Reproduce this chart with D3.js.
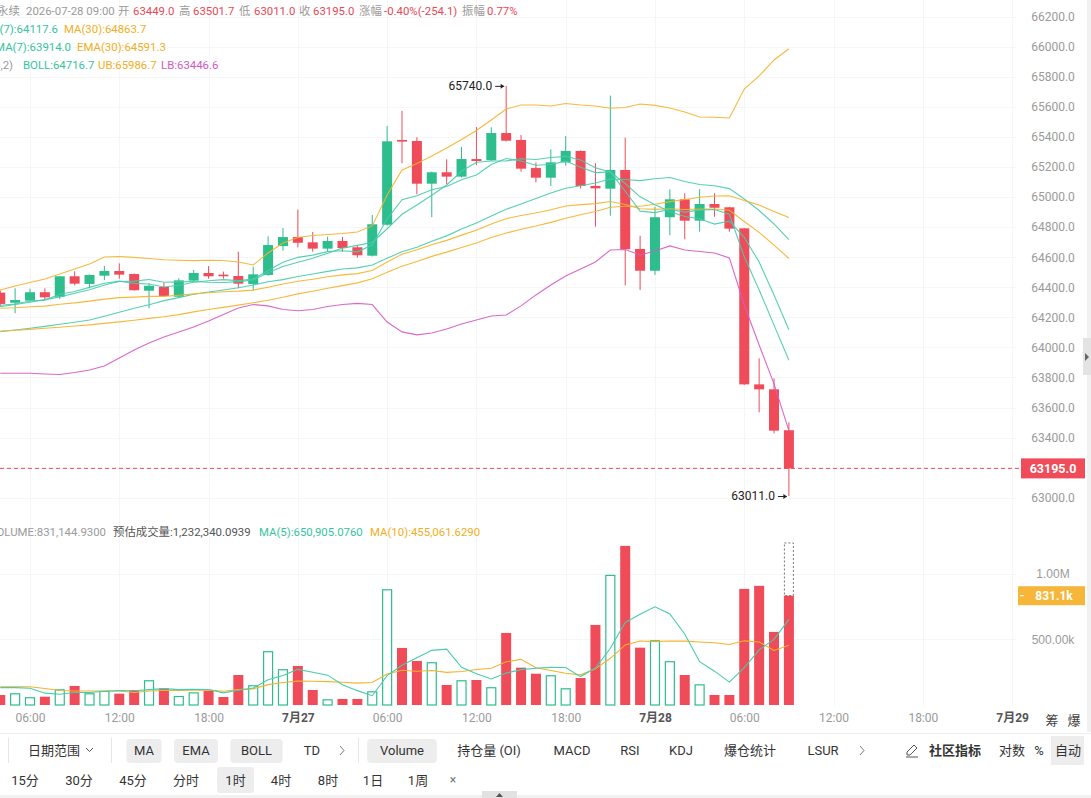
<!DOCTYPE html>
<html><head><meta charset="utf-8">
<script src="https://cdn.jsdelivr.net/npm/d3@7"></script>
<style>
html,body{margin:0;padding:0;background:#fff;overflow:hidden}
svg{display:block;font-family:Roboto,"Noto Sans CJK SC",sans-serif}
</style></head><body>
<svg id="c" width="1091" height="798"></svg>
<script>
// ---------------- DATA ----------------
const startTime = new Date(2026, 6, 26, 4, 0); // first (partly visible) 1h candle
const open  = [64364,64297,64311,64367,64337,64473,64422,64477,64508,64488,64377,64402,64337,64444,64495,64484,64475,64422,64482,64674,64734,64699,64657,64708,64666,64610,64816,65380,65373,65089,65165,65136,65253,65245,65426,65380,65193,65129,65231,65307,65074,65056,65180,64655,64510,64866,64985,64843,64954,64932,64792,63754,63721,63449];
const high  = [64380,64393,64391,64393,64475,64506,64485,64541,64559,64492,64426,64430,64460,64515,64541,64504,64637,64537,64739,64794,64916,64768,64737,64735,64679,64881,65473,65573,65398,65170,65251,65333,65466,65464,65740,65413,65231,65318,65406,65310,65225,65675,65395,64743,64936,65052,65025,65052,65025,64935,64795,63927,63794,63501.7];
const low   = [64270,64227,64302,64320,64322,64413,64393,64448,64457,64378,64260,64335,64329,64440,64457,64457,64393,64377,64476,64643,64666,64637,64637,64637,64597,64605,64810,65225,65019,64866,65085,65130,65213,65240,65370,65169,65098,65074,65209,65058,64803,64876,64413,64382,64482,64746,64719,64770,64870,64770,63750,63568,63428,63011];
const close = [64289,64315,64367,64333,64473,64424,64482,64508,64484,64380,64410,64342,64446,64495,64473,64473,64424,64486,64681,64734,64696,64657,64708,64661,64613,64819,65371,65369,65089,65165,65136,65253,65240,65426,65375,65189,65129,65231,65307,65074,65058,65180,64653,64510,64866,64985,64843,64954,64929,64790,63754,63721,63446,63195];
const volume = [76000,89000,59000,63000,119000,145000,89000,107000,86000,114000,188000,127000,68000,96000,109000,61000,228000,150000,409000,272000,297000,114000,43000,46000,46000,104000,880000,434000,335000,325000,152000,188000,190000,135000,548000,284000,238000,226000,127000,205000,609000,989000,1210000,436000,492000,333000,228000,157000,76000,76000,883000,906000,556000,831144.93];
const estVolume = 1232340.0939;

const ma7   = [64270,64285,64300,64318,64336,64360,64383.3,64414.6,64438.7,64440.6,64451.6,64432.9,64436,64437.9,64432.9,64431.3,64437.6,64448.4,64496.9,64538,64566.7,64593,64626.6,64660.4,64678.6,64698.3,64789.3,64885.4,64947.1,65012.4,65080.3,65171.7,65231.9,65239.7,65240.6,65254.9,65249.7,65263.3,65271,65247.3,65194.7,65166.9,65090.3,65001.9,64949.7,64903.7,64870.7,64855.9,64820,64839.6,64731.6,64568,64348.1,64117.6];
const ma30  = [64109,64114,64120,64127,64134,64142,64150,64160,64170,64181,64193,64204,64218,64236,64252,64266,64281,64297,64314,64333,64356,64374,64393,64411,64429,64456,64500,64540,64572,64605.6,64633.8,64665.1,64694.2,64730.6,64760.7,64786.2,64807.7,64831.8,64859.3,64882.4,64904,64931.9,64938.8,64939.3,64952.4,64969.5,64983.5,64999.1,65007.3,65009.2,64977.8,64946.6,64904.5,64863.7];
const ema7  = [64280,64288.8,64308.3,64314.5,64354.1,64371.6,64399.2,64426.4,64440.8,64425.6,64421.7,64401.8,64412.9,64433.4,64443.3,64450.7,64444,64454.5,64511.1,64566.8,64599.1,64613.6,64637.2,64643.2,64635.6,64681.5,64853.9,64982.7,65009.3,65048.2,65070.2,65115.9,65146.9,65216.7,65256.3,65239.5,65211.9,65216.7,65239.3,65198,65163,65167.3,65038.7,64906.5,64896.4,64918.6,64899.7,64913.3,64917.2,64885.4,64602.6,64382.2,64148.2,63914];
const ema30 = [64260,64263.5,64270.2,64274.3,64287.1,64295.9,64307.9,64320.8,64331.3,64334.4,64339.3,64339.5,64346.4,64356,64363.5,64370.6,64374,64381.2,64400.5,64422,64439.7,64453.7,64470.1,64482.4,64490.8,64512,64567.4,64619.1,64649.4,64682.7,64712,64746.9,64778.7,64820.5,64856.3,64877.8,64894,64915.7,64940.9,64949.5,64956.5,64970.9,64950.4,64922,64918.4,64922.7,64917.6,64919.9,64920.5,64912.1,64837.4,64765.4,64680.3,64591.3];
const boll  = [64104,64116,64127,64140,64154,64167,64182,64207,64234,64260,64284,64311,64331,64353,64369,64382,64397,64415,64437,64451,64471.3,64488.4,64505.5,64521.9,64528.9,64548.6,64593.1,64636.1,64666.4,64705.6,64741.9,64787.5,64827.2,64873.7,64918.8,64954.6,64989.9,65027.1,65058.4,65075.4,65093.5,65119.7,65116.9,65109.4,65122,65130.3,65103.9,65083.2,65075.2,65056.4,64987.3,64910.7,64821,64716.7];
const ub    = [64382,64409,64432,64455,64488,64522,64555,64601,64605,64599,64591,64583,64580,64577,64580,64578,64568,64548,64628,64695,64731,64744,64751,64758,64768,64808,65014,65180,65224,65273,65327,65383,65443,65513,65586,65613,65613,65606,65623,65613,65606,65591,65596,65619,65610,65593,65566,65533,65531,65526,65719,65806,65912,65986.7];
const lb    = [63828,63828,63828,63823,63820,63833,63850,63876,63929,63983,64029,64069,64103,64136,64176,64219,64262,64285,64276,64252,64244,64252,64272,64285,64293,64285,64169,64103,64083,64096,64122,64156,64182,64209,64215,64276,64349,64415,64475,64522,64568,64648,64651,64615,64641,64675,64648,64638,64628,64595,64282,64016,63757,63446.6];
const volMa5  = [132000,132000,127000,90000,81200,95000,95000,104600,109200,108200,116800,124400,116600,118600,117600,92200,112400,128800,191400,224000,271200,248400,227000,154400,109200,70600,223800,302000,359800,415600,425200,286800,238000,198000,242600,269000,279000,286200,284600,216000,281000,431200,628000,689800,747200,692000,539800,329200,257200,174000,284000,419600,499400,650905];
const volMa10 = [139000,139000,139000,125000,110000,107000,107000,107000,107000,94700,105900,109700,110600,113900,112900,104500,118400,122700,155000,170800,181700,180400,177900,172900,166600,170900,236100,264500,257100,262400,247900,255300,270000,278900,329100,347100,282900,262100,241300,229300,275000,355100,457100,487200,481600,486500,485500,478600,473500,460600,488000,479700,414300,455062];

const priceTicks = d3.range(63000, 66201, 200);
const volTicks = [500000, 1000000];
const lastPrice = 63195.0, lastVolLabel = "831.1k";

const headerLine = [
  ["永续",-3,"g"],["2026-07-28 09:00",26,"g"],["开",118,"g"],["63449.0",133,"r"],["高",179,"g"],["63501.7",193,"r"],
  ["低",239,"g"],["63011.0",254,"r"],["收",299,"g"],["63195.0",313,"r"],["涨幅",359,"g"],["-0.40%(-254.1)",384,"r"],
  ["振幅",462,"g"],["0.77%",487,"r"]];
const toolbar1 = [["MA",144,true],["EMA",196,true],["BOLL",256.5,true],["TD",312],["Volume",402,true],["持仓量 (OI)",489],["MACD",572],["RSI",630],["KDJ",681],["爆仓统计",750],["LSUR",823],["对数",1012],["%",1039],["自动",1068,true]];
const toolbar2 = [["15分",25],["30分",79],["45分",133],["分时",186],["1时",235.5,true],["4时",281],["8时",328],["1日",373],["1周",418]];

// ---------------- CHART ----------------
const svg = d3.select("#c");
const C = {green:"#2ebd8d", red:"#ef4b59", teal:"#48ccad", orange:"#f4b32c", magenta:"#d55cc6",
           gray:"#9a9a9a", text:"#333", tealText:"#36c3a0", orangeText:"#f2ae22", redText:"#e94855"};
const times = d3.range(close.length).map(i => d3.timeHour.offset(startTime, i));
const x = d3.scaleTime().domain([times[0], times[times.length-1]]).range([0.24, 788.9]);
const y = d3.scaleLinear().domain([63000, 66200]).range([497.7, 16.7]);
const yv = d3.scaleLinear().domain([0, 1e6]).range([705, 573.5]);
const bw = 10;
const HF = 11.4; // header font size

const defs = svg.append("defs");
defs.append("clipPath").attr("id","clipP").append("rect").attr("x",0).attr("y",0).attr("width",1016).attr("height",510);
defs.append("clipPath").attr("id","clipV").append("rect").attr("x",0).attr("y",538).attr("width",1016).attr("height",170);

// right edge strip
svg.append("rect").attr("x",1087).attr("y",0).attr("width",4).attr("height",732).attr("fill","#f1f1f1");
svg.append("rect").attr("x",1083).attr("y",338).attr("width",8).attr("height",37).attr("fill","#e3e3e3");
svg.append("path").attr("d","M1085,353 L1089,357 L1085,361 Z").attr("fill","#666");

// grid
const timeTicks = d3.timeHour.every(6).range(new Date(2026,6,26,6), new Date(2026,6,29,1));
const grid = svg.append("g").attr("stroke","#f6f6f6").attr("stroke-width",1);
priceTicks.forEach(v => grid.append("line").attr("x1",0).attr("x2",1016).attr("y1",Math.round(y(v))+0.5).attr("y2",Math.round(y(v))+0.5));
volTicks.forEach(v => grid.append("line").attr("x1",0).attr("x2",1016).attr("y1",Math.round(yv(v))+0.5).attr("y2",Math.round(yv(v))+0.5));
timeTicks.forEach(t => grid.append("line").attr("x1",Math.round(x(t))+0.5).attr("x2",Math.round(x(t))+0.5).attr("y1",0).attr("y2",706));

// candles
const gP = svg.append("g").attr("clip-path","url(#clipP)");
const idx = d3.range(close.length);
gP.selectAll("line.w").data(idx).join("line")
  .attr("x1", i => x(times[i])).attr("x2", i => x(times[i]))
  .attr("y1", i => y(high[i])).attr("y2", i => y(low[i]))
  .attr("stroke", i => close[i] >= open[i] ? C.green : C.red).attr("stroke-width",1);
gP.selectAll("rect.b").data(idx).join("rect")
  .attr("x", i => x(times[i]) - bw/2).attr("width", bw)
  .attr("y", i => y(Math.max(open[i], close[i])))
  .attr("height", i => Math.max(1.2, Math.abs(y(open[i]) - y(close[i]))))
  .attr("fill", i => close[i] >= open[i] ? C.green : C.red);

// indicator lines
const line = d3.line().x((d,i) => x(times[i])).y(d => y(d));
[[ub,C.orange],[lb,C.magenta],[boll,C.teal],[ma30,C.orange],[ema30,C.orange],[ma7,C.teal],[ema7,C.teal]].forEach(([arr,col]) => {
  gP.append("path").attr("d", line(arr)).attr("fill","none").attr("stroke",col).attr("stroke-width",1.1).attr("opacity",0.92);
});

// last price dashed line
const yl = y(lastPrice);
svg.append("line").attr("x1",0).attr("x2",1021).attr("y1",yl).attr("y2",yl)
  .attr("stroke",C.red).attr("stroke-width",1).attr("stroke-dasharray","4,3");

// extreme annotations
const iMax = d3.maxIndex(high), iMin = d3.minIndex(low);
function annot(i, val) {
  const xc = x(times[i]), yc = y(val);
  svg.append("text").attr("x", xc - 14).attr("y", yc + 4).attr("text-anchor","end")
    .attr("font-size",12).attr("fill","#222").text(d3.format(".1f")(val));
  svg.append("line").attr("x1", xc - 11).attr("x2", xc - 2).attr("y1", yc + 0.5).attr("y2", yc + 0.5).attr("stroke","#222").attr("stroke-width",1);
  svg.append("path").attr("d", `M${xc-2},${yc+0.5} l-3.5,-2.5 l0,5 Z`).attr("fill","#222");
}
annot(iMax, high[iMax]);
annot(iMin, low[iMin]);

// price axis
const axP = svg.append("g").attr("transform","translate(1053,0)")
  .call(d3.axisRight(y).tickValues(priceTicks).tickFormat(d3.format(".1f")).tickSize(0).tickPadding(0));
axP.select(".domain").remove();
axP.selectAll("text").attr("text-anchor","middle").attr("x",0).attr("font-size",12).attr("fill",C.gray).attr("font-family",'Roboto,sans-serif');

// last price tag
svg.append("rect").attr("x",1021).attr("y",yl-10).attr("width",64).attr("height",20).attr("fill",C.red);
svg.append("text").attr("x",1053).attr("y",yl+4.5).attr("text-anchor","middle").attr("font-size",12.5).attr("font-weight","bold").attr("fill","#fff").text(d3.format(".1f")(lastPrice));

// volume bars
const gV = svg.append("g").attr("clip-path","url(#clipV)");
gV.selectAll("rect.v").data(idx).join("rect")
  .attr("x", i => close[i] >= open[i] ? x(times[i]) - bw/2 + 0.5 : x(times[i]) - bw/2)
  .attr("width", i => close[i] >= open[i] ? bw - 1 : bw)
  .attr("y", i => yv(volume[i]) + (close[i] >= open[i] ? 0.5 : 0))
  .attr("height", i => yv(0) - yv(volume[i]) - (close[i] >= open[i] ? 0.5 : 0))
  .attr("fill", i => close[i] >= open[i] ? "#fff" : C.red)
  .attr("stroke", i => close[i] >= open[i] ? C.green : "none").attr("stroke-width",1.2);
const iL = volume.length - 1;
svg.append("rect").attr("x", x(times[iL]) - bw/2 + 0.5).attr("width", bw - 1)
  .attr("y", yv(estVolume)).attr("height", yv(volume[iL]) - yv(estVolume))
  .attr("fill","none").attr("stroke","#555").attr("stroke-width",0.8).attr("stroke-dasharray","2,2");
const vline = d3.line().x((d,i) => x(times[i])).y(d => yv(d));
gV.append("path").attr("d", vline(volMa10)).attr("fill","none").attr("stroke",C.orange).attr("stroke-width",1.1);
gV.append("path").attr("d", vline(volMa5)).attr("fill","none").attr("stroke",C.teal).attr("stroke-width",1.1);

// volume axis
const fmtVol = d => d >= 1e6 ? (d/1e6).toFixed(2) + "M" : (d/1e3).toFixed(2) + "k";
const axV = svg.append("g").attr("transform","translate(1053,0)")
  .call(d3.axisRight(yv).tickValues(volTicks).tickFormat(fmtVol).tickSize(0).tickPadding(0));
axV.select(".domain").remove();
axV.selectAll("text").attr("text-anchor","middle").attr("x",0).attr("font-size",12).attr("fill",C.gray);
const yvl = yv(volume[iL]);
svg.append("rect").attr("x",1018).attr("y",yvl-9.5).attr("width",67).attr("height",19).attr("fill","#f5b63a");
svg.append("line").attr("x1",1020).attr("x2",1024).attr("y1",yvl).attr("y2",yvl).attr("stroke","#fff");
svg.append("text").attr("x",1054).attr("y",yvl+4.5).attr("text-anchor","middle").attr("font-size",12).attr("font-weight","bold").attr("fill","#fff").text(lastVolLabel);

// time axis
const fmtT = t => t.getHours() === 0 ? (t.getMonth()+1) + "月" + t.getDate() : d3.timeFormat("%H:%M")(t);
const axT = svg.append("g").attr("transform","translate(0,713)")
  .call(d3.axisBottom(x).tickValues(timeTicks).tickFormat(fmtT).tickSize(0).tickPadding(0));
axT.select(".domain").remove();
axT.selectAll("text").attr("font-size",12).attr("dy","0.71em")
  .attr("fill", t => t.getHours() === 0 ? "#555" : C.gray)
  .attr("font-weight", t => t.getHours() === 0 ? "bold" : "normal")
  .attr("font-family",'Roboto,"Noto Sans CJK SC",sans-serif');
svg.append("text").attr("x",1052).attr("y",725).attr("text-anchor","middle").attr("font-size",13).attr("fill","#444").text("筹");
svg.append("text").attr("x",1074).attr("y",725).attr("text-anchor","middle").attr("font-size",13).attr("fill","#444").text("爆");

// header text
function t(xp, yp, s, col, opts={}) {
  const e = svg.append("text").attr("x",xp).attr("y",yp).attr("font-size",opts.size||12).attr("fill",col).text(s);
  if (opts.anchor) e.attr("text-anchor",opts.anchor);
  if (opts.weight) e.attr("font-weight",opts.weight);
  return e;
}
headerLine.forEach(([s,xp,c]) => t(xp, 15, s, c === "r" ? C.redText : C.gray, {size:HF}));
t(58, 33, "MA(7):64117.6", C.tealText, {anchor:"end", size:HF});
t(64, 33, "MA(30):64863.7", C.orangeText, {size:HF});
t(71, 51, "EMA(7):63914.0", C.tealText, {anchor:"end", size:HF});
t(77, 51, "EMA(30):64591.3", C.orangeText, {size:HF});
t(13, 69, "BOLL(20,2)", C.gray, {anchor:"end", size:HF});
t(23, 69, "BOLL:64716.7", C.tealText, {size:HF});
t(98, 69, "UB:65986.7", C.orangeText, {size:HF});
t(161, 69, "LB:63446.6", "#d558c4", {size:HF});
t(106, 536, "VOLUME:831,144.9300", C.gray, {anchor:"end", size:HF});
t(113, 536, "预估成交量:1,232,340.0939", "#555", {size:HF});
t(259, 536, "MA(5):650,905.0760", C.tealText, {size:HF});
t(370, 536, "MA(10):455,061.6290", C.orangeText, {size:HF});

// toolbar
svg.append("line").attr("x1",0).attr("x2",1091).attr("y1",733.5).attr("y2",733.5).attr("stroke","#eee");
[8.5,111.5,358.5].forEach(xp => svg.append("line").attr("x1",xp).attr("x2",xp).attr("y1",738).attr("y2",763).attr("stroke","#e6e6e6"));
t(54, 755, "日期范围", "#333", {anchor:"middle", size:13});
svg.append("path").attr("d","M86,748 l3.5,3.5 l3.5,-3.5").attr("fill","none").attr("stroke","#555").attr("stroke-width",1);
toolbar1.forEach(([s,xc,btn]) => {
  const w = s === "自动" ? 33 : (s.length * 8.6 + 18);
  if (btn) svg.append("rect").attr("x", s === "自动" ? 1051 : xc - w/2).attr("y", s === "自动" ? 736 : 739)
    .attr("width", w).attr("height", s === "自动" ? 29 : 24).attr("rx", s === "自动" ? 0 : 4).attr("fill","#ededed");
  t(xc, 755, s, "#333", {anchor:"middle", size:13});
});
[342, 862].forEach(xp => svg.append("path").attr("d",`M${xp-2},746 l4,4.5 l-4,4.5`).attr("fill","none").attr("stroke","#777").attr("stroke-width",1));
svg.append("path").attr("d","M907,755 l0,-3 l7,-7 l3,3 l-7,7 Z M906,757 l12,0").attr("fill","none").attr("stroke","#555").attr("stroke-width",1);
t(955, 755, "社区指标", "#333", {anchor:"middle", size:13, weight:"bold"});
toolbar2.forEach(([s,xc,btn]) => {
  if (btn) svg.append("rect").attr("x", xc - 18.5).attr("y", 767).attr("width", 37).attr("height", 26).attr("rx",3).attr("fill","#ededed");
  t(xc, 785, s, "#333", {anchor:"middle", size:13});
});
t(453, 784, "×", "#777", {anchor:"middle", size:12});
svg.append("rect").attr("x",0).attr("y",795).attr("width",1091).attr("height",3).attr("fill","#f1f1f1");
svg.append("rect").attr("x",482).attr("y",791).attr("width",35).attr("height",7).attr("fill","#e2e2e2");
svg.append("path").attr("d","M496,797 l3.5,-4 l3.5,4 Z").attr("fill","#555");
</script>
</body></html>
